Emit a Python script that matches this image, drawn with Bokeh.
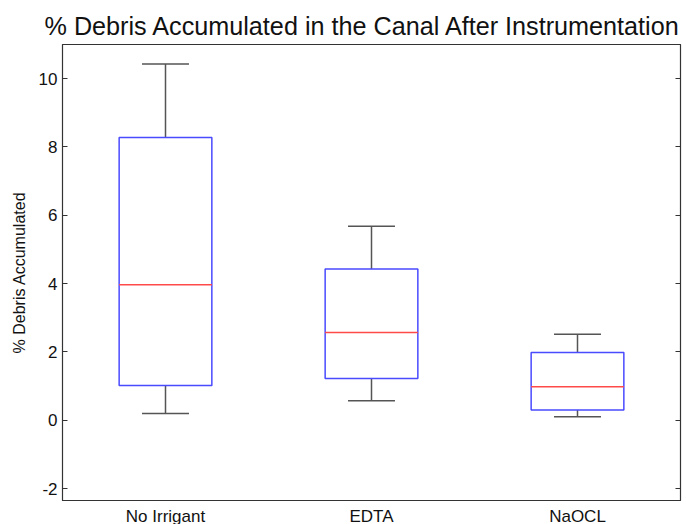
from bokeh.plotting import figure
from bokeh.models import ColumnDataSource, FactorRange, Range1d, LinearAxis, FixedTicker
from bokeh.transform import dodge
from bokeh.embed import file_html
from bokeh.resources import INLINE

groups = ["No Irrigant", "EDTA", "NaOCL"]
lower_whisker = [0.20, 0.57, 0.10]
q1 = [1.02, 1.22, 0.30]
median = [3.97, 2.57, 0.98]
q3 = [8.28, 4.43, 1.98]
upper_whisker = [10.43, 5.68, 2.52]
y_ticks = [-2, 0, 2, 4, 6, 8, 10]
y_tick_labels = ["-2", "0", "2", "4", "6", "8", "10"]

FONT = "Liberation Sans"
AX = "#333333"
BOX = "#4a4aff"
MED = "#ff4a4a"
WH = "#555555"

src = ColumnDataSource(dict(g=groups, lo=lower_whisker, q1=q1, med=median, q3=q3, hi=upper_whisker))

p = figure(x_range=FactorRange(*groups, range_padding=0), y_range=Range1d(-2.35, 11.0),
           frame_width=618, frame_height=456,
           output_backend="svg", toolbar_location=None,
           title="% Debris Accumulated in the Canal After Instrumentation")
p.min_border_left = 62
p.min_border_right = 3
p.min_border_top = 44
p.min_border_bottom = 20

# whiskers
p.segment(x0="g", y0="q3", x1="g", y1="hi", source=src, line_color=WH, line_width=1.5)
p.segment(x0="g", y0="lo", x1="g", y1="q1", source=src, line_color=WH, line_width=1.5)
cap = 0.114
p.segment(x0=dodge("g", -cap, range=p.x_range), y0="hi", x1=dodge("g", cap, range=p.x_range), y1="hi",
          source=src, line_color=WH, line_width=1.5)
p.segment(x0=dodge("g", -cap, range=p.x_range), y0="lo", x1=dodge("g", cap, range=p.x_range), y1="lo",
          source=src, line_color=WH, line_width=1.5)
# boxes
p.vbar(x="g", width=0.45, bottom="q1", top="q3", source=src, fill_color=None, line_color=BOX, line_width=1.5)
# medians
hw = 0.225
p.segment(x0=dodge("g", -hw, range=p.x_range), y0="med", x1=dodge("g", hw, range=p.x_range), y1="med",
          source=src, line_color=MED, line_width=1.5)

p.xgrid.grid_line_color = None
p.ygrid.grid_line_color = None
p.outline_line_color = AX
p.outline_line_width = 1.2
p.background_fill_color = "white"
p.border_fill_color = "white"

p.title.text_font = FONT
p.title.text_font_size = "25.2px"
p.title.text_font_style = "normal"
p.title.text_color = "#111111"
p.title.align = "left"
p.title.offset = -18
p.title.standoff = 10

ya = p.yaxis[0]
ya.ticker = FixedTicker(ticks=y_ticks)
ya.major_label_overrides = dict(zip(y_ticks, y_tick_labels))
ya.major_tick_in = 5
ya.major_tick_out = 0
ya.minor_tick_line_color = None
ya.axis_line_color = AX
ya.major_tick_line_color = AX
ya.major_label_text_font = FONT
ya.major_label_text_font_size = "17px"
ya.major_label_text_color = "#111111"
ya.major_label_standoff = 5
ya.axis_label = "% Debris Accumulated"
ya.axis_label_text_font = FONT
ya.axis_label_text_font_size = "16px"
ya.axis_label_text_font_style = "normal"
ya.axis_label_text_color = "#111111"
ya.axis_label_standoff = 8

ra = LinearAxis(ticker=FixedTicker(ticks=y_ticks))
ra.major_tick_in = 5
ra.major_tick_out = 0
ra.minor_tick_line_color = None
ra.major_label_overrides = {t: "" for t in y_ticks}
ra.major_label_standoff = 0
ra.axis_line_color = AX
ra.major_tick_line_color = AX
p.add_layout(ra, "right")

xa = p.xaxis[0]
xa.major_tick_in = 0
xa.major_tick_out = 0
xa.axis_line_color = AX
xa.major_label_text_font = FONT
xa.major_label_text_font_size = "17px"
xa.major_label_text_color = "#111111"
xa.major_label_standoff = 6

open("out.html", "w").write(file_html(p, INLINE))
